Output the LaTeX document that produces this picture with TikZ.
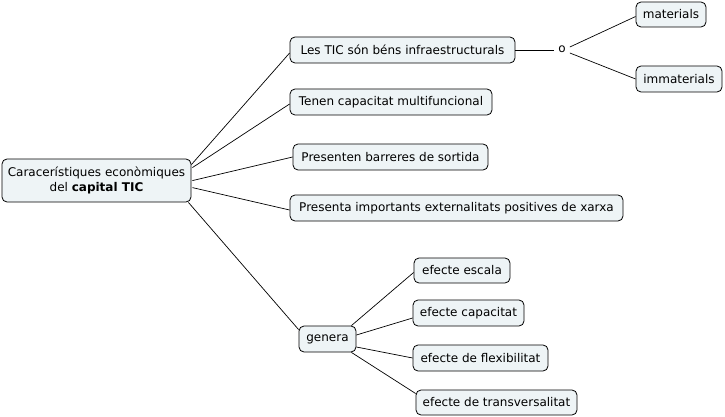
\documentclass[tikz,border=0pt]{standalone}
\usepackage{fontspec}
\setmainfont{DejaVu Sans}
\usetikzlibrary{calc}
\definecolor{boxfill}{RGB}{238,244,246}
\begin{document}
\begin{tikzpicture}[x=1pt,y=-1pt,
  box/.style={draw=black, line width=0.8pt, rounded corners=5pt, fill=boxfill,
    minimum height=26pt, inner sep=0pt, font=\fontsize{12}{14.5}\selectfont},
  conn/.style={draw=black, line width=0.7pt}]
\useasboundingbox (0,0) rectangle (725,417);
\node[box, minimum width=189pt, minimum height=43pt, align=center] (main) at (96.5,180.5)
  {Caracerístiques econòmiques\\del \textbf{capital TIC}};
\node[box, minimum width=225pt] (lestic) at (402.5,50) {Les TIC són béns infraestructurals};
\node[box, minimum width=202pt] (tenen) at (391,102) {Tenen capacitat multifuncional};
\node[box, minimum width=195pt] (presenten) at (390.5,157) {Presenten barreres de sortida};
\node[box, minimum width=333pt] (presenta) at (456.5,208) {Presenta importants externalitats positives de xarxa};
\node[box, minimum width=57pt] (genera) at (327.5,339) {genera};
\node[inner sep=4pt, font=\fontsize{12}{14.5}\selectfont] (o) at (562,49) {o};
\node[box, minimum width=70pt, minimum height=25pt] (materials) at (671,14.5) {materials};
\node[box, minimum width=86pt] (immaterials) at (679,79) {immaterials};
\node[box, minimum width=96pt, minimum height=25pt] (escala) at (462,270.5) {efecte escala};
\node[box, minimum width=111pt] (capacitat) at (468.5,313) {efecte capacitat};
\node[box, minimum width=135pt] (flex) at (480.5,358) {efecte de flexibilitat};
\node[box, minimum width=161pt, minimum height=25pt] (transv) at (496.5,402.5) {efecte de transversalitat};
% connectors from main
\draw[conn] ($(main.north east)+(0,6)$) -- ($(lestic.west)+(0,3)$);
\draw[conn] ($(main.north east)+(1,9)$) -- ($(tenen.west)+(0,2)$);
\draw[conn] ($(main.north east)+(1,22)$) -- (presenten.west);
\draw[conn] ($(main.north east)+(1,29)$) -- ($(presenta.west)+(0,2)$);
\draw[conn] ($(main.south east)+(-3,0)$) -- ($(genera.north west)+(0,4)$);
% o branch
\draw[conn] (lestic.east) -- ($(o.west)+(0,1)$);
\draw[conn] ($(o.east)+(0,-2)$) -- ($(materials.west)+(0,2)$);
\draw[conn] ($(o.east)+(0,4)$) -- (immaterials.west);
% genera branch
\draw[conn] ($(genera.north east)+(-5,0)$) -- ($(escala.west)+(0,2)$);
\draw[conn] ($(genera.east)+(0,-4)$) -- ($(capacitat.west)+(0,5)$);
\draw[conn] ($(genera.east)+(0,8)$) -- (flex.west);
\draw[conn] ($(genera.south east)+(-5,0)$) -- ($(transv.west)+(0,-9)$);
\end{tikzpicture}
\end{document}
